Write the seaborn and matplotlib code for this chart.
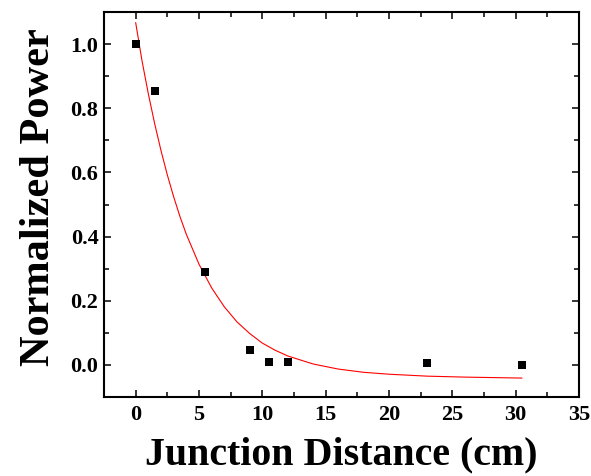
import matplotlib
matplotlib.use("Agg")
import matplotlib.pyplot as plt
from matplotlib.ticker import MultipleLocator
import seaborn as sns
import pandas as pd

# Measured points
distance_cm = [0, 1.5, 5.5, 9, 10.5, 12, 23, 30.5]
normalized_power = [1.0, 0.855, 0.29, 0.045, 0.01, 0.01, 0.005, 0.0]

# Exponential-decay fit curve, sampled
fit_x = [0, 0.5, 1, 1.5, 2, 2.5, 3, 3.5, 4, 5, 6, 7, 8, 9, 10, 11, 12, 14, 16, 18, 20, 23, 26, 30.5]
fit_y = [1.067, 0.948, 0.845, 0.752, 0.668, 0.592, 0.524, 0.462, 0.407, 0.314, 0.240,
         0.181, 0.134, 0.098, 0.068, 0.046, 0.028, 0.003, -0.013, -0.023, -0.029,
         -0.035, -0.038, -0.041]

x_ticks = [0, 5, 10, 15, 20, 25, 30, 35]
y_ticks = [0.0, 0.2, 0.4, 0.6, 0.8, 1.0]

points = pd.DataFrame({"distance": distance_cm, "power": normalized_power})
curve = pd.DataFrame({"distance": fit_x, "power": fit_y})

sns.set_style("ticks")
plt.rcParams["font.family"] = ["Liberation Serif", "DejaVu Serif"]
plt.rcParams["font.weight"] = "bold"
for key in ("text.color", "axes.labelcolor", "xtick.color", "ytick.color",
            "axes.edgecolor"):
    plt.rcParams[key] = "black"

fig = plt.figure(figsize=(5.91, 4.76), dpi=100)
ax = fig.add_axes([104 / 591, 1 - 397 / 476, 475 / 591, 385 / 476])

sns.lineplot(data=curve, x="distance", y="power", ax=ax, color="#ff0000",
             linewidth=0.8, sort=False)
sns.scatterplot(data=points, x="distance", y="power", ax=ax, marker="s",
                color="black", s=32, linewidth=0, zorder=3)

ax.set_xlim(-2.5, 35)
ax.set_ylim(-0.1, 1.1)
ax.set_xticks(x_ticks)
ax.set_yticks(y_ticks)
ax.set_xticklabels([str(v) for v in x_ticks])
ax.set_yticklabels([f"{v:.1f}" for v in y_ticks])
ax.xaxis.set_minor_locator(MultipleLocator(2.5))
ax.yaxis.set_minor_locator(MultipleLocator(0.1))

ax.tick_params(which="both", direction="in", top=True, right=True, width=1.1)
ax.tick_params(which="major", length=5, labelsize=16)
ax.tick_params(axis="x", which="major", pad=6)
ax.tick_params(axis="y", which="major", pad=4)
ax.tick_params(which="minor", length=3.6)
for lab in ax.get_xticklabels() + ax.get_yticklabels():
    lab.set_fontweight("bold")

for sp in ax.spines.values():
    sp.set_visible(True)
    sp.set_linewidth(1.5)
    sp.set_color("black")

ax.set_xlabel("Junction Distance (cm)", fontsize=28.7, fontweight="bold", labelpad=8)
ax.set_ylabel("Normalized Power", fontsize=30.5, fontweight="bold", labelpad=9)
ax.yaxis.label.set_y(0.52)

fig.savefig("out.png", dpi=100)
